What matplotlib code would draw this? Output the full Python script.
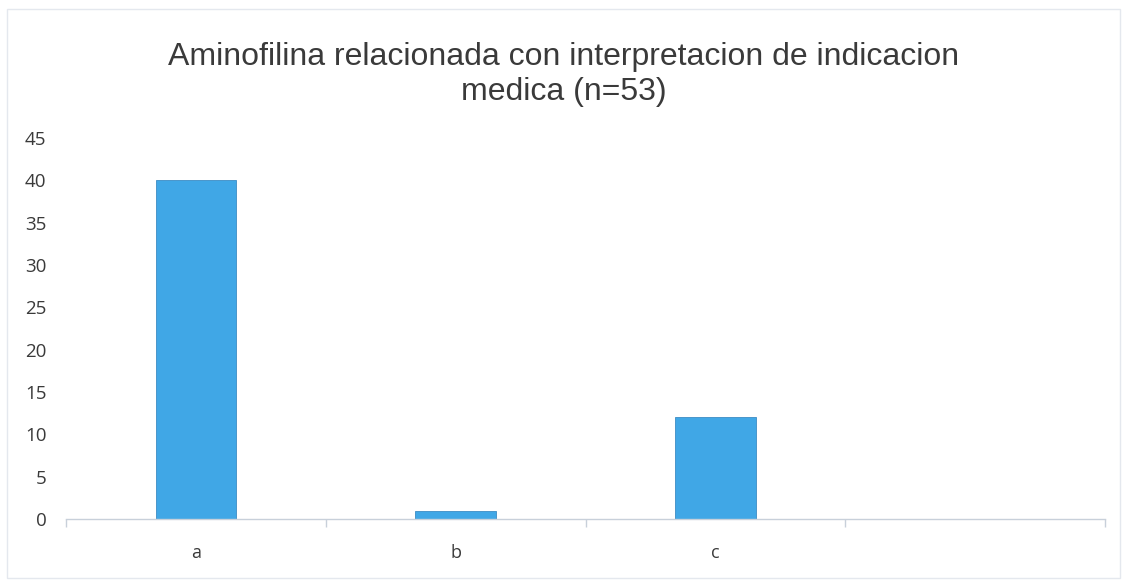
import matplotlib
matplotlib.use("Agg")
import matplotlib.pyplot as plt
import numpy as np

categories = ["a", "b", "c", ""]
values = [40, 1, 12, 0]
yticks = [0, 5, 10, 15, 20, 25, 30, 35, 40, 45]
title = "Aminofilina relacionada con interpretacion de indicacion\nmedica (n=53)"

fig = plt.figure(figsize=(11.27, 5.84), dpi=100)
ax = fig.add_axes([0.0586, 0.1113, 0.922, 0.6524])

x = np.arange(len(categories))
ax.bar(x, values, width=0.31, color="#40A7E6", edgecolor="#3C8CC4", linewidth=0.6)

ax.set_xlim(-0.5, len(categories) - 0.5)
ax.set_ylim(0, 45)
ax.set_yticks(yticks)
ax.set_yticklabels([str(v) for v in yticks], fontsize=13.5, family="Open Sans", color="#3A3A3A")
ax.set_xticks(x)
ax.set_xticklabels(categories, fontsize=13, family="Open Sans", color="#3A3A3A")
ax.tick_params(axis="x", which="major", length=0, pad=18)
ax.set_xticks(np.arange(-0.5, len(categories), 1.0), minor=True)
ax.tick_params(axis="x", which="minor", length=6, color="#C8D0DA", width=1)
ax.tick_params(axis="y", length=0, pad=14)

for s in ["top", "right", "left"]:
    ax.spines[s].set_visible(False)
ax.spines["bottom"].set_color("#C8D0DA")
ax.spines["bottom"].set_linewidth(1)

fig.text(0.5, 0.872, title, ha="center", va="center", fontsize=23,
         family="Liberation Sans", color="#3A3A3A", linespacing=1.2)

border = plt.Rectangle((0.006, 0.01), 0.988, 0.975, transform=fig.transFigure,
                       fill=False, edgecolor="#E4E8EE", linewidth=1)
fig.add_artist(border)

fig.savefig("out.png", dpi=100)
